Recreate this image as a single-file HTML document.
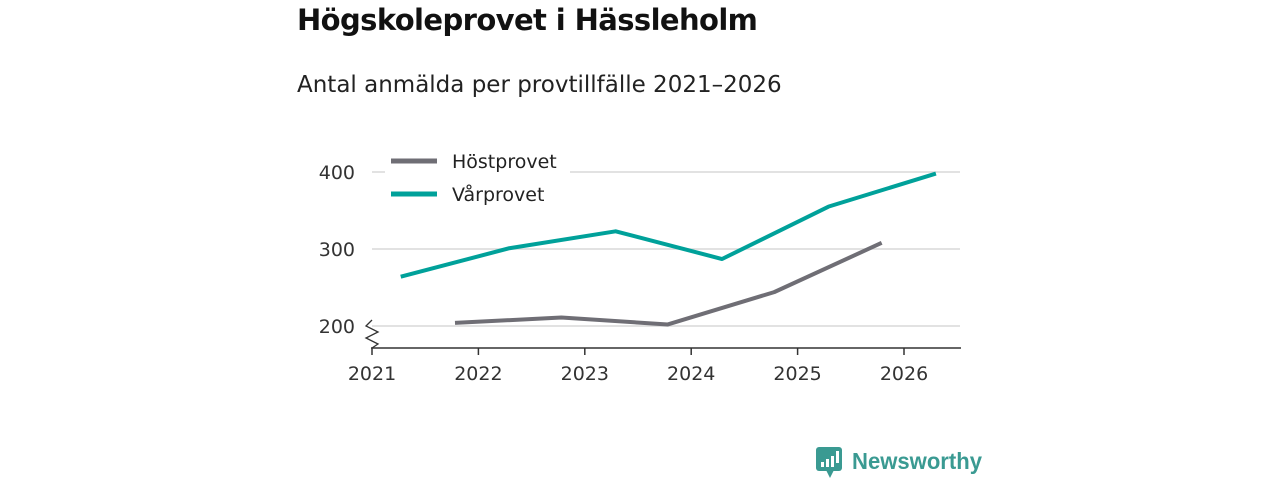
<!DOCTYPE html>
<html><head><meta charset="utf-8"><style>
body{margin:0;width:1280px;height:480px;background:#fff;font-family:"DejaVu Sans","Liberation Sans",sans-serif;overflow:hidden;position:relative}
#title{position:absolute;left:297px;top:3px;font-size:29px;font-weight:bold;color:#111;font-family:"DejaVu Sans","Liberation Sans",sans-serif;letter-spacing:-0.6px}
#sub{position:absolute;left:297px;top:72px;font-size:23px;color:#222;font-family:"DejaVu Sans","Liberation Sans",sans-serif;letter-spacing:0px}
</style></head><body>
<div id="title">Högskoleprovet i Hässleholm</div>
<div id="sub">Antal anmälda per provtillfälle 2021–2026</div>
<svg id="chart" width="1280" height="480" style="position:absolute;left:0;top:0"></svg>
<script>
const years=[2021,2022,2023,2024,2025,2026];
const yTicks=[200,300,400];
const varTimes=[2021.27,2022.29,2023.29,2024.29,2025.29,2026.3];
const varValues=[264,301,323,287,355,398];
const hostTimes=[2021.78,2022.78,2023.78,2024.78,2025.79];
const hostValues=[204,211,202,244,308];
const seriesNames=["Höstprovet","Vårprovet"];
const NS="http://www.w3.org/2000/svg";
const svg=document.getElementById('chart');
const xs=t=>372+(t-2021)*106.4;
const ys=v=>326-(v-200)*0.77;
function el(tag,attrs,parent){const e=document.createElementNS(NS,tag);for(const k in attrs)e.setAttribute(k,attrs[k]);(parent||svg).appendChild(e);return e;}
yTicks.forEach(v=>{
  const g=el('line',{x1:372,x2:960,y1:ys(v),y2:ys(v),stroke:'#d8d8d8','stroke-width':1.5});
  
  
  const t=el('text',{x:355,y:ys(v)+7,'text-anchor':'end','font-size':19,fill:'#333','font-family':'DejaVu Sans, Liberation Sans, sans-serif'});
  t.textContent=v;
  
  
});
const ax=el('line',{x1:371,x2:961,y1:348,y2:348,stroke:'#333','stroke-width':1.5});


const br=el('path',{d:'M372 320 L366 326 L378 332 L366 338 L378 344 L372 348',fill:'none',stroke:'#333','stroke-width':1.3});


years.forEach(y=>{
  const tk=el('line',{x1:xs(y),x2:xs(y),y1:348,y2:355,stroke:'#333','stroke-width':1.5});
  
  
  const t=el('text',{x:xs(y),y:380,'text-anchor':'middle','font-size':19,fill:'#333','font-family':'DejaVu Sans, Liberation Sans, sans-serif'});
  t.textContent=y;
  
  
});
function line(ts,vs,color,name){
  const p=el('polyline',{points:ts.map((t,i)=>xs(t)+','+ys(vs[i])).join(' '),fill:'none',stroke:color,'stroke-width':4,'stroke-linejoin':'round'});
  
  
}
line(hostTimes,hostValues,'#6f6e75','line-hostprovet');
line(varTimes,varValues,'#00a19a','line-varprovet');
const lb=el('rect',{x:385,y:145,width:185,height:68,fill:'#fff'});


[['#6f6e75',161],['#00a19a',194]].forEach((c,i)=>{
  const l=el('line',{x1:391,x2:437,y1:c[1],y2:c[1],stroke:c[0],'stroke-width':5});
  
  
  const t=el('text',{x:452,y:c[1]+7,'font-size':19,fill:'#222','font-family':'DejaVu Sans, Liberation Sans, sans-serif'});
  t.textContent=seriesNames[i];
  
  
});
const logo=el('g',{});


el('rect',{x:816,y:447,width:26,height:24,rx:3,fill:'#3a9a92'},logo);
el('path',{d:'M826 470 L830 478 L834 470 Z',fill:'#3a9a92'},logo);
[[821,462,3,5],[826,459,3,8],[831,456,3,11],[836,451,3,12]].forEach(b=>el('rect',{x:b[0],y:b[1],width:b[2],height:b[3],fill:'#fff'},logo));
const lt=el('text',{x:852,y:469,'font-size':23,fill:'#3a9a92','font-weight':'bold','font-family':'Liberation Sans, sans-serif',textLength:130,lengthAdjust:'spacingAndGlyphs'},logo);
lt.textContent='Newsworthy';
</script>
</body></html>
